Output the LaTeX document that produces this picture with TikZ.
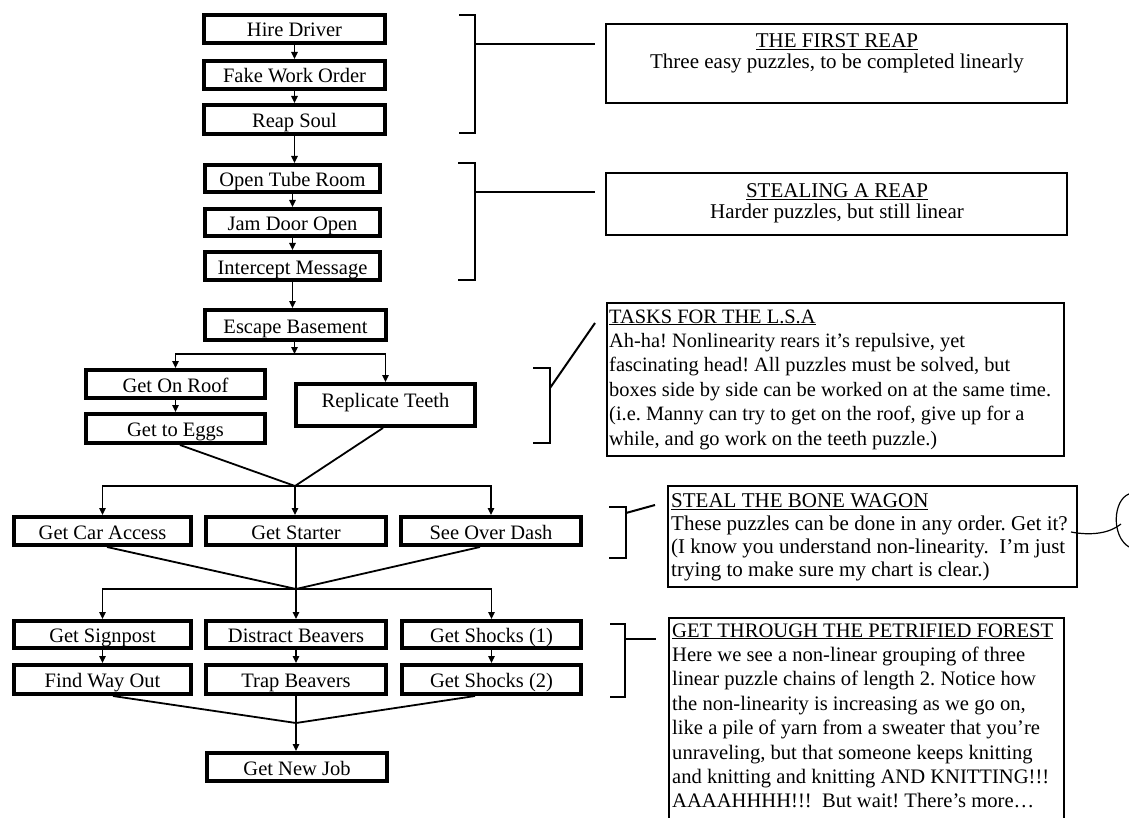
\documentclass[tikz,border=0pt]{standalone}
\usepackage{fontspec}
\setmainfont{Liberation Serif}
\usetikzlibrary{arrows.meta,calc}
\frenchspacing
\begin{document}
\begin{tikzpicture}[x=1pt,y=-1pt,
  taskbox/.style 2 args={draw, line width=4.4pt, inner sep=0pt,
    minimum width=#1pt-4.4pt, minimum height=#2pt-4.4pt,
    font=\fontsize{20.5}{24}\selectfont, text height=16pt, text depth=0pt},
  arrowline/.style={line width=1.4pt, -{Triangle[length=7pt,width=6.5pt]}},
  joinline/.style={line width=1.8pt},
  notebox/.style 2 args={draw, line width=2pt, inner sep=0pt,
    minimum width=#1pt-2pt, minimum height=#2pt-2pt},
  notetext/.style={inner sep=0pt, font=\fontsize{20.6}{24.4}\selectfont},
  bracketline/.style={line width=2.6pt},
  linkline/.style={line width=2pt},
]
\path[fill=white] (0,0) rectangle (1129,818);
\useasboundingbox (0,0) rectangle (1129,818);

% ---------- task boxes ----------
\node[taskbox={185}{32}] (hire) at (294.5,29) {Hire Driver};
\node[taskbox={185}{32}] (fake) at (294.5,75) {Fake Work Order};
\node[taskbox={185}{33}] (reap) at (294.5,119.5) {Reap Soul};
\node[taskbox={179}{31}] (tube) at (292.5,178.5) {Open Tube Room};
\node[taskbox={179}{31}] (jam) at (292.5,222.5) {Jam Door Open};
\node[taskbox={179}{32}] (icpt) at (292.5,266) {Intercept Message};
\node[taskbox={185}{34}] (escape) at (295.5,325) {Escape Basement};
\node[taskbox={183}{32}] (roof) at (175.5,384) {Get On Roof};
\node[taskbox={183}{33}] (eggs) at (175.5,428.5) {Get to Eggs};
\node[taskbox={183}{46}, text height=10pt, text depth=6pt] (teeth) at (385.5,405) {Replicate Teeth};
\node[taskbox={181}{32}] (car) at (102.5,531) {Get Car Access};
\node[taskbox={184}{32}] (starter) at (296,531) {Get Starter};
\node[taskbox={184}{32}] (dash) at (491,531) {See Over Dash};
\node[taskbox={181}{31}] (sign) at (102.5,634.5) {Get Signpost};
\node[taskbox={184}{31}] (distract) at (296,634.5) {Distract Beavers};
\node[taskbox={183}{31}] (shockA) at (491.5,634.5) {Get Shocks (1)};
\node[taskbox={181}{33}] (way) at (102.5,679.5) {Find Way Out};
\node[taskbox={184}{33}] (trap) at (296,679.5) {Trap Beavers};
\node[taskbox={183}{33}] (shockB) at (491.5,679.5) {Get Shocks (2)};
\node[taskbox={184}{32}] (newjob) at (297,767) {Get New Job};

% ---------- connectors ----------
\draw[arrowline] (hire.south) -- (fake.north);
\draw[arrowline] (fake.south) -- (reap.north);
\draw[arrowline] (reap.south) -- (reap.south |- tube.north);
\draw[arrowline] (tube.south) -- (jam.north);
\draw[arrowline] (jam.south) -- (icpt.north);
\draw[arrowline] (icpt.south) -- (icpt.south |- escape.north);
\coordinate (split) at ($(escape.south)+(-1,12)$);
\draw[arrowline] (escape.south -| split) -- (split);
\draw[arrowline] (split) -| (roof.north);
\draw[arrowline] (split) -| (teeth.north);
\draw[arrowline] (roof.south) -- (eggs.north);

\coordinate (mA) at ($(starter.north)+(-1,-29)$);
\draw[joinline] ($(eggs.south)+(4.5,0)$) -- (mA) -- ($(teeth.south)+(-2.5,0)$);
\draw[arrowline] (mA) -| (car.north);
\draw[arrowline] (mA) -| (dash.north);
\draw[arrowline] (mA) -- (mA |- starter.north);

\coordinate (mB) at ($(distract.north)+(0,-30)$);
\draw[joinline] ($(car.south)+(4.5,0)$) -- (mB);
\draw[joinline] (starter.south) -- (mB);
\draw[joinline] ($(dash.south)+(-11,0)$) -- (mB);
\draw[arrowline] (mB) -| (sign.north);
\draw[arrowline] (mB) -| (shockA.north);
\draw[arrowline] (mB) -- (distract.north);
\draw[arrowline] (sign.south) -- (way.north);
\draw[arrowline] (distract.south) -- (trap.north);
\draw[arrowline] (shockA.south) -- (shockB.north);

\coordinate (mC) at ($(trap.south)+(0,27)$);
\draw[joinline] ($(way.south)+(10.5,0)$) -- (mC);
\draw[joinline] (trap.south) -- (mC);
\draw[joinline] ($(shockB.south)+(-16.5,0)$) -- (mC);
\draw[arrowline] (mC) -- (mC |- newjob.north);

% ---------- note boxes ----------
\node[notebox={463}{81}] (reapnote) at (836.5,63.5) {};
\node[notetext, font=\fontsize{21}{20}\selectfont, anchor=base] (reaptxt) at (837,48)
  {\begin{tabular}[t]{@{}c@{}}\underline{THE FIRST REAP}\\Three easy puzzles, to be completed linearly\end{tabular}};

\node[notebox={463}{64}] (stealnote) at (836.5,204) {};
\node[notetext, font=\fontsize{21}{21}\selectfont, anchor=base] (stealtxt) at (837,198)
  {\begin{tabular}[t]{@{}c@{}}\underline{STEALING A REAP}\\Harder puzzles, but still linear\end{tabular}};

\node[notebox={459}{155}] (tasknote) at (835.5,379.5) {};
\node[notetext, font=\fontsize{20.4}{24.4}\selectfont, anchor=base west] (tasktxt) at (609,323)
  {\begin{tabular}[t]{@{}l@{}}\underline{TASKS FOR THE L.S.A}\\
  Ah-ha! Nonlinearity rears it’s repulsive, yet\\
  fascinating head! All puzzles must be solved, but\\
  boxes side by side can be worked on at the same time.\\
  (i.e. Manny can try to get on the roof, give up for a\\
  while, and go work on the teeth puzzle.)\end{tabular}};

\node[notebox={411}{103}] (wagonnote) at (872.5,536.5) {};
\node[notetext, font=\fontsize{21}{23.3}\selectfont, anchor=base west] (wagontxt) at (671,507)
  {\begin{tabular}[t]{@{}l@{}}\underline{STEAL THE BONE WAGON}\\
  These puzzles can be done in any order. Get it?\\
  (I know you understand non-linearity.\ \ I’m just\\
  trying to make sure my chart is clear.)\end{tabular}};

\node[notebox={397}{213}] (forestnote) at (866.5,723.5) {};
\node[notetext, anchor=base west] (foresttxt) at (672,637)
  {\begin{tabular}[t]{@{}l@{}}\underline{GET THROUGH THE PETRIFIED FOREST}\\
  Here we see a non-linear grouping of three\\
  linear puzzle chains of length 2. Notice how\\
  the non-linearity is increasing as we go on,\\
  like a pile of yarn from a sweater that you’re\\
  unraveling, but that someone keeps knitting\\
  and knitting and knitting AND KNITTING!!!\\
  AAAAHHHH!!!\ \ But wait! There’s more…\end{tabular}};

% ---------- brackets ----------
\draw[bracketline] (459,15) -- (475,15) -- (475,133) -- (459,133);
\coordinate (k1a) at (475,44); \coordinate (k1b) at (595,44);
\draw[linkline] (k1a) -- (k1b);

\draw[bracketline] (458,163) -- (475,163) -- (475,280) -- (458,280);
\coordinate (k2a) at (475,192); \coordinate (k2b) at (595,192);
\draw[linkline] (k2a) -- (k2b);

\draw[bracketline] (533,368) -- (550,368) -- (550,443) -- (533,443);
\coordinate (k3a) at (550,388); \coordinate (k3b) at (595,323);
\draw[linkline] (k3a) -- (k3b);

\draw[bracketline] (609,507) -- (626,507) -- (626,558) -- (609,558);
\coordinate (k4a) at (626,513); \coordinate (k4b) at (655,505);
\draw[linkline] (k4a) -- (k4b);

\draw[bracketline] (610,624) -- (625,624) -- (625,697) -- (610,697);
\coordinate (k5a) at (625,639); \coordinate (k5b) at (656,639);
\draw[linkline] (k5a) -- (k5b);

% ---------- curl ----------
\coordinate (gq) at (1071,532);
\coordinate (gc) at (1121,524);
\draw[line width=1.2pt] (gq) .. controls (1092,536) and (1110,533) .. (gc);
\draw[line width=1.2pt] (1129,494) .. controls (1113,500) and (1111,536) .. (1129,547);
\end{tikzpicture}
\end{document}
